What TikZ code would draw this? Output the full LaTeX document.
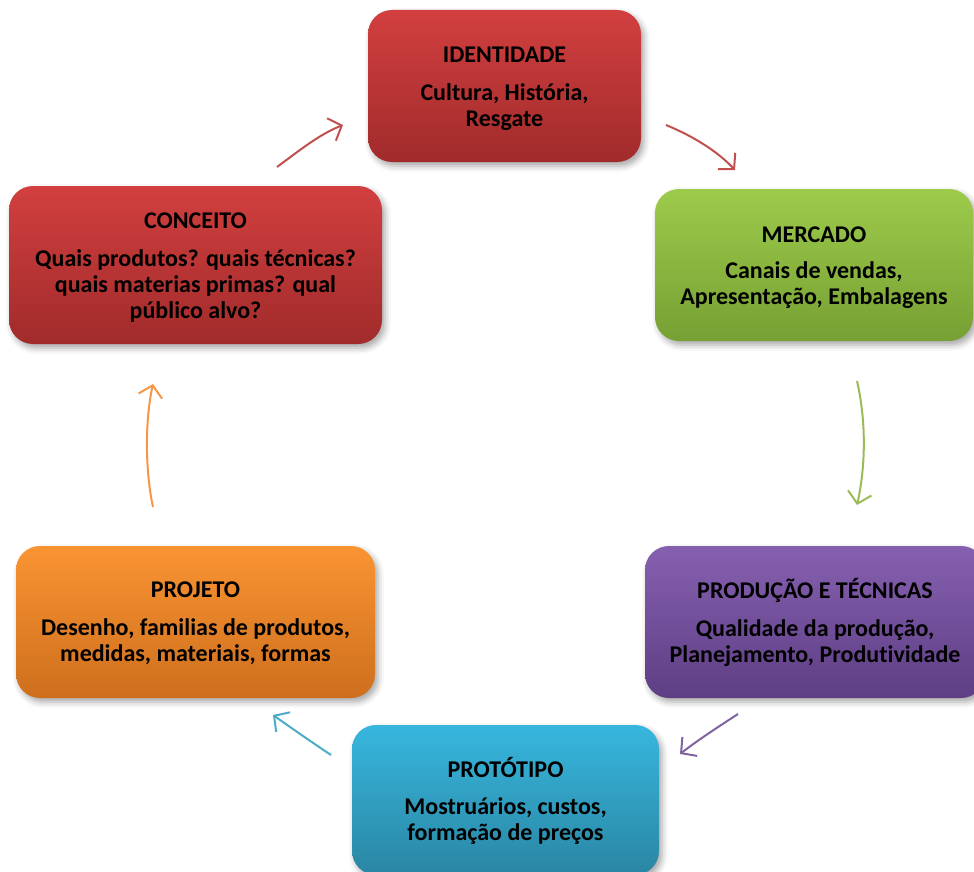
\documentclass[tikz,border=0pt]{standalone}
\usepackage{fontspec}
\setmainfont{Carlito}[Ligatures={NoCommon}]
\usetikzlibrary{shadows.blur,arrows.meta}
\definecolor{redT}{HTML}{D23F3F}
\definecolor{redB}{HTML}{A12B2B}
\definecolor{greenT}{HTML}{9DCB4B}
\definecolor{greenB}{HTML}{76A033}
\definecolor{purpT}{HTML}{8660B0}
\definecolor{purpB}{HTML}{5E3E84}
\definecolor{blueT}{HTML}{37B6DE}
\definecolor{blueB}{HTML}{2A86A3}
\definecolor{oranT}{HTML}{FA9433}
\definecolor{oranB}{HTML}{CE6F1D}
\definecolor{redA}{HTML}{C0504D}
\definecolor{greenA}{HTML}{9BBB59}
\definecolor{purpA}{HTML}{8064A2}
\definecolor{blueA}{HTML}{4BACC6}
\definecolor{oranA}{HTML}{F79646}
\tikzset{
  card/.style={rounded corners=24pt, minimum height=152pt, inner sep=0pt,
    blur shadow={shadow xshift=3pt, shadow yshift=-4pt, shadow blur radius=6pt, shadow opacity=35}},
  cardtext/.style={inner sep=0pt, font=\fontsize{24pt}{26pt}\selectfont\bfseries, align=center, text=black},
  flow/.style={line width=2pt, -{Straight Barb[length=11pt,width=24pt,line width=2pt]}},
}
\begin{document}
\begin{tikzpicture}[x=1pt,y=-1pt]
\useasboundingbox (0,0) rectangle (974,872);
\node[card, minimum width=273pt, top color=redT, bottom color=redB] (id) at (504.5,86) {};
\node[cardtext] (idt) at (504.5,89) {IDENTIDADE\\[12pt]Cultura, História,\\Resgate};
\node[card, minimum width=318pt, top color=greenT, bottom color=greenB] (mer) at (814,265) {};
\node[cardtext] (mert) at (814,267.5) {MERCADO\\[10pt]Canais de vendas,\\Apresentação, Embalagens};
\node[card, minimum width=340pt, top color=purpT, bottom color=purpB] (prod) at (815,622) {};
\node[cardtext] (prodt) at (815,622.5) {PRODUÇÃO E TÉCNICAS\\[12pt]Qualidade da produção,\\Planejamento, Produtividade};
\node[card, minimum width=307pt, minimum height=150pt, top color=blueT, bottom color=blueB] (prot) at (505.5,800) {};
\node[cardtext] (prott) at (505.5,801) {PROTÓTIPO\\[11pt]Mostruários, custos,\\formação de preços};
\node[card, minimum width=359pt, top color=oranT, bottom color=oranB] (proj) at (195.5,622) {};
\node[cardtext] (projt) at (195.5,623.5) {PROJETO\\[12pt]Desenho, familias de produtos,\\medidas, materiais, formas};
\node[card, minimum width=373pt, minimum height=158pt, top color=redT, bottom color=redB] (con) at (195.5,265) {};
\node[cardtext] (cont) at (195.5,267.5) {CONCEITO\\[12pt]Quais produtos? quais técnicas?\\quais materias primas? qual\\público alvo?};
\coordinate (a1s) at (277,167); \coordinate (a1e) at (343,125);
\coordinate (a2s) at (666,125); \coordinate (a2e) at (735,170);
\coordinate (a3s) at (857,381); \coordinate (a3e) at (857,505);
\coordinate (a4s) at (738,714); \coordinate (a4e) at (680,754);
\coordinate (a5s) at (331,755); \coordinate (a5e) at (273,715);
\coordinate (a6s) at (153,507); \coordinate (a6e) at (153,384);
\draw[flow, redA] (a1s) .. controls (300,150) and (320,134) .. (a1e);
\draw[flow, redA] (a2s) .. controls (695,137) and (718,152) .. (a2e);
\draw[flow, greenA] (a3s) .. controls (866,420) and (866,465) .. (a3e);
\draw[flow, purpA] (a4s) .. controls (718,727) and (698,740) .. (a4e);
\draw[flow, blueA] (a5s) .. controls (310,741) and (290,727) .. (a5e);
\draw[flow, oranA] (a6s) .. controls (145,470) and (145,420) .. (a6e);
\end{tikzpicture}
\end{document}
